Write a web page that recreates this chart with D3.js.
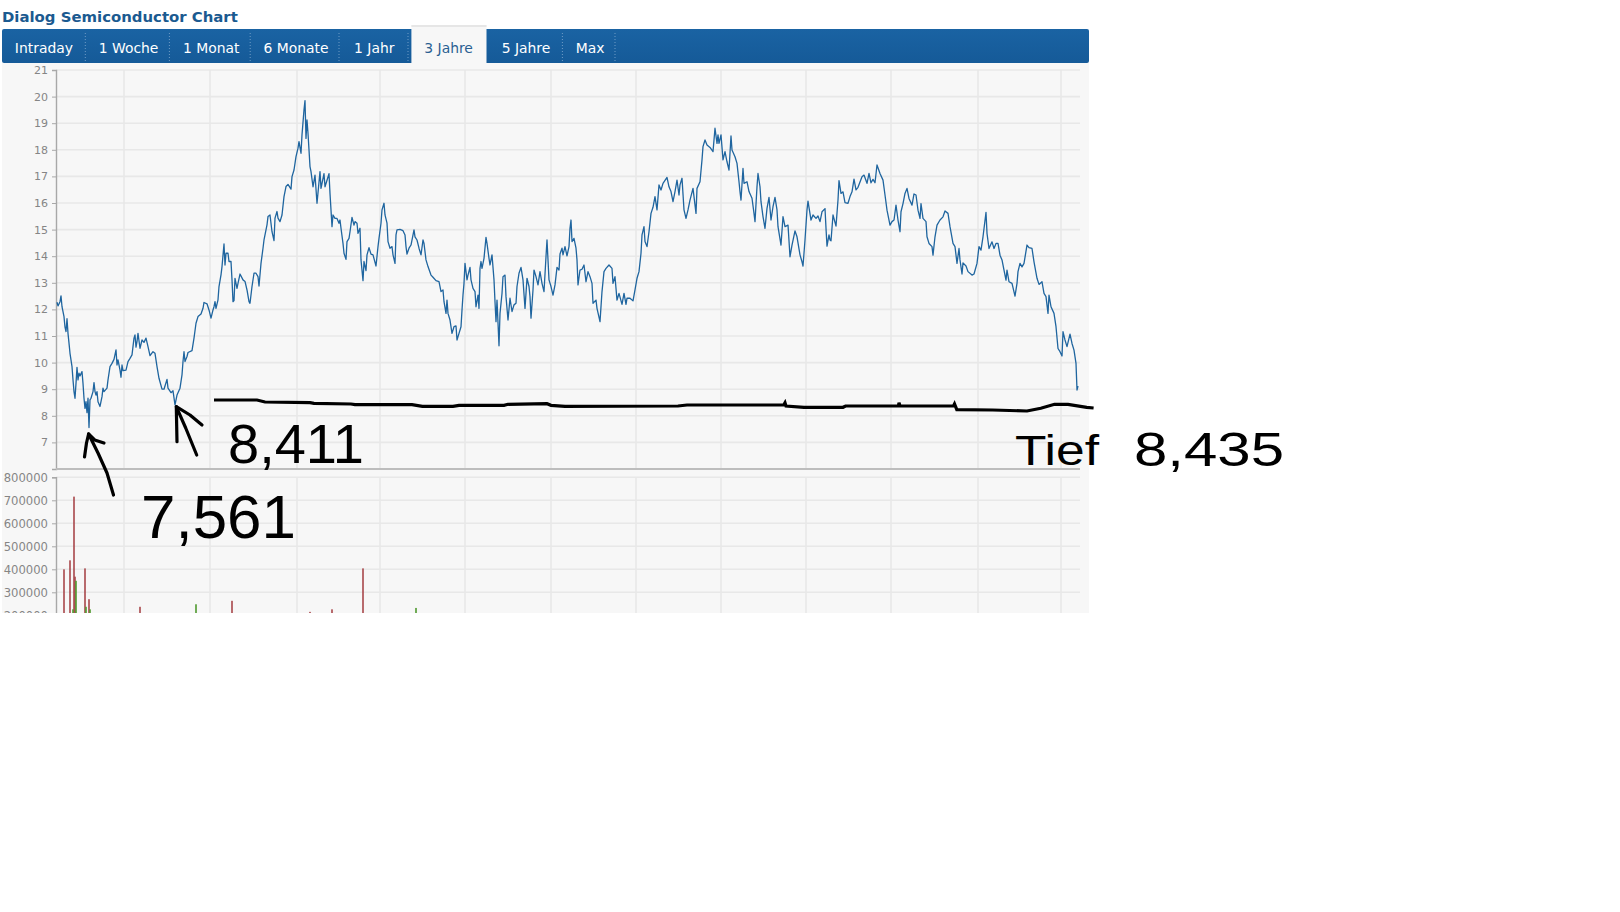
<!DOCTYPE html>
<html><head><meta charset="utf-8">
<script src="https://cdnjs.cloudflare.com/ajax/libs/d3/7.8.5/d3.min.js"></script>
<style>html,body{margin:0;padding:0;background:#fff}svg{display:block}</style>
</head><body><svg id="c" width="1620" height="912"></svg>
<script>
const chartTitle = "Dialog Semiconductor Chart";
const tabLabels = ["Intraday","1 Woche","1 Monat","6 Monate","1 Jahr","3 Jahre","5 Jahre","Max"];
const activeTab = "3 Jahre";
const priceTicks = [7,8,9,10,11,12,13,14,15,16,17,18,19,20,21];
const volumeTicks = [200000,300000,400000,500000,600000,700000,800000];
const gridDays = [67,153,240,323,408,494,579,664,749,834,921,1004];
const priceDays = [0,1,3,4,5,7,8,9,10,11,12,13,15,16,17,18,19,20,21,22,23,25,26,27,28,29,30,31,32,33,34,36,37,38,39,40,41,43,45,46,47,50,51,53,55,57,59,60,61,63,64,65,66,69,71,73,75,77,78,79,80,81,83,85,87,89,91,93,96,98,100,102,105,107,110,111,114,116,118,120,123,125,126,127,128,130,131,135,137,139,141,144,146,147,150,152,154,156,157,158,159,161,162,164,165,167,168,169,171,172,174,175,176,177,178,180,181,183,186,188,190,192,193,195,197,199,201,202,204,206,207,210,211,213,215,217,218,220,221,223,225,227,229,231,234,235,237,239,241,242,244,245,247,248,249,250,251,253,254,256,258,260,263,264,267,268,272,273,274,275,276,278,280,282,283,284,286,287,289,290,292,293,295,297,298,300,301,303,304,306,307,309,310,312,314,316,319,321,322,324,325,327,328,330,331,333,335,336,338,339,340,343,346,348,349,350,352,354,357,358,360,362,364,366,367,369,371,374,376,379,382,384,386,387,389,390,391,393,395,397,399,400,402,404,405,406,407,408,410,411,413,414,416,418,419,421,422,423,424,425,427,429,430,432,433,435,437,438,439,440,442,443,445,446,448,449,451,453,455,457,459,460,462,464,466,468,470,472,473,474,476,477,479,481,483,485,487,489,490,492,494,496,498,500,502,503,505,506,508,510,512,513,514,515,517,519,520,521,523,525,527,529,531,533,535,536,539,540,543,545,547,549,552,555,556,558,560,562,565,567,569,570,573,576,578,580,582,584,585,587,588,590,592,594,596,598,600,602,604,606,610,612,614,616,618,620,622,623,625,627,629,631,633,636,639,640,643,645,646,648,650,653,656,658,660,661,662,664,666,668,670,672,674,675,678,680,682,683,684,686,687,690,692,695,697,698,700,701,703,704,706,708,710,712,714,716,718,720,721,724,726,728,731,733,735,738,740,743,745,746,748,750,751,754,756,759,761,763,765,768,769,770,772,773,774,776,779,781,782,784,786,788,791,793,795,797,799,801,805,807,810,812,814,816,818,820,823,826,828,830,833,835,837,839,841,843,844,846,848,850,852,855,857,859,861,863,864,866,869,870,872,875,876,878,880,883,886,888,891,893,896,898,900,902,903,905,906,909,911,915,917,920,922,924,926,929,930,932,935,937,939,941,943,945,947,949,950,952,955,958,960,961,963,965,967,970,972,975,977,980,982,985,987,989,991,992,994,997,999,1001,1003,1005,1006,1008,1010,1013,1015,1017,1019,1020,1021];
const priceValues = [12.27,12.13,12.29,12.51,12.10,11.73,11.33,11.17,11.65,11.10,10.73,10.35,9.85,9.35,8.91,8.66,9.22,9.82,9.35,9.60,9.50,9.66,9.22,8.66,8.28,8.53,8.12,8.66,7.56,8.60,8.66,8.91,9.25,8.91,8.78,8.91,8.53,8.35,8.72,9.04,8.91,9.04,9.35,9.85,9.97,10.12,10.48,9.91,10.10,9.72,9.45,9.91,9.70,9.72,10.04,10.16,10.29,10.92,11.04,10.58,10.79,11.10,10.54,10.85,10.76,10.92,10.60,10.26,10.41,10.35,9.85,9.41,9.00,9.00,9.37,9.04,8.87,8.94,8.41,8.78,9.04,9.54,10.04,10.41,10.04,10.23,10.38,10.45,10.92,11.48,11.73,11.83,12.04,12.26,12.21,11.98,11.67,11.98,12.10,12.29,12.04,12.36,12.86,13.30,13.61,14.46,13.67,14.11,14.11,13.80,13.80,13.11,12.29,12.33,13.17,12.79,12.98,13.33,13.11,13.05,12.73,12.29,12.23,12.86,13.36,13.36,13.23,12.88,13.73,14.30,14.61,15.18,15.49,15.55,14.92,14.59,15.43,15.68,15.43,15.30,15.55,16.24,16.62,16.70,16.52,16.99,17.24,17.74,18.06,18.31,17.87,18.56,19.50,19.85,18.43,19.12,18.62,17.37,17.18,16.61,17.05,15.99,17.18,16.55,17.10,16.61,17.10,16.36,15.74,15.11,15.55,15.42,15.42,15.24,15.36,15.05,14.48,14.11,13.88,14.55,14.67,14.92,15.46,15.17,15.30,15.24,14.86,15.05,13.86,13.08,13.80,13.46,14.05,14.32,14.08,14.05,13.63,14.36,14.67,15.24,15.74,15.99,15.55,15.24,14.55,14.30,14.36,14.05,13.73,14.80,14.99,15.01,14.96,14.80,14.36,14.08,14.30,14.42,14.99,14.73,14.61,14.30,14.05,14.61,14.48,13.86,13.61,13.29,13.21,13.08,13.04,12.67,12.73,12.29,11.85,12.35,11.85,11.60,11.10,11.35,11.38,10.85,11.10,11.35,11.98,12.54,12.98,13.73,13.11,13.29,13.58,13.11,12.79,12.67,12.10,12.54,12.04,13.54,13.80,13.54,13.92,14.71,14.48,13.92,13.67,14.05,13.11,12.29,11.54,12.35,10.63,11.85,12.60,13.23,13.29,12.48,11.60,12.42,11.92,12.17,12.23,12.86,13.36,13.58,13.11,12.04,13.17,12.86,12.48,11.67,12.73,13.48,13.23,12.92,13.42,12.98,12.67,13.98,14.61,13.11,12.86,12.54,12.92,13.58,13.48,14.08,14.30,14.05,14.36,14.01,14.36,15.05,15.36,14.55,14.67,14.30,13.86,12.92,13.48,13.51,13.67,13.04,13.42,13.23,12.98,12.23,12.35,12.04,11.54,12.67,13.42,13.54,13.67,13.54,12.98,13.23,12.35,12.60,12.19,12.60,12.19,12.42,12.42,12.32,12.73,13.17,13.42,14.11,14.80,15.11,14.55,14.36,14.92,15.61,15.84,16.24,15.74,16.68,16.49,16.74,16.96,16.61,16.43,16.05,16.43,16.86,16.30,16.68,16.93,15.74,15.42,15.74,16.11,16.55,15.61,16.55,16.80,17.62,18.12,18.37,18.18,18.09,17.93,18.81,18.24,18.56,18.24,18.56,17.62,17.93,17.55,17.24,18.52,17.99,17.74,17.49,16.80,16.43,16.11,17.30,16.74,16.80,16.43,16.18,15.61,15.30,16.61,17.11,16.61,16.05,15.49,15.05,15.80,16.21,15.36,15.86,16.21,15.74,15.11,14.42,15.49,15.11,15.17,13.98,14.42,14.95,14.73,14.05,13.79,13.63,14.61,15.74,16.07,15.36,15.55,15.42,15.51,15.30,15.67,15.79,15.05,14.38,14.80,14.61,14.58,15.55,15.13,16.11,16.84,16.36,16.42,16.01,15.99,16.24,16.42,16.90,16.49,16.59,16.99,17.05,16.74,17.11,16.76,16.89,16.76,17.43,17.11,16.86,16.30,15.73,15.17,15.30,15.36,15.92,15.36,14.92,15.67,15.98,16.36,16.55,16.17,15.92,16.34,16.30,15.73,15.42,15.98,15.42,15.30,14.73,14.48,14.36,14.04,14.73,15.17,15.36,15.48,15.70,15.61,15.11,14.48,14.36,13.73,14.29,13.86,13.33,13.75,13.63,13.42,13.29,13.33,13.73,14.36,14.23,14.73,15.65,14.86,14.29,14.54,14.29,14.48,14.48,14.04,13.86,13.48,13.10,13.48,13.04,12.98,12.50,12.98,13.42,13.73,13.60,13.73,14.42,14.32,14.29,13.79,13.17,12.94,13.04,12.60,12.48,11.85,12.54,12.10,11.85,11.35,10.53,10.41,10.25,11.16,10.85,10.60,11.07,10.72,10.47,9.97,8.97,9.12];
const volumeDaysDown = [7,13,17,18,28,32,83,175,253,275,306];
const volumeValuesDown = [400000,439000,716000,368000,404000,270000,237000,263000,215000,226000,404000];
const volumeDaysUp = [16,19,29,33,139,359];
const volumeValuesUp = [226000,350000,237000,226000,248000,232000];
// Hand-drawn overlay, in screen pixels (it was scribbled on top of the screenshot)
const sketchBaseline = [[214,400],[257,400],[265,402],[310,402.7],[314,403.3],[351,404],[355,404.7],[412,404.7],[422.4,406.3],[453,406.3],[459,405.3],[504,405.3],[508,404.3],[547,403.7],[551,405.3],[565,406.3],[678,406],[687,405],[783.7,405],[785,402.7],[786,406],[804,407.3],[843,407.3],[845.6,406],[898.4,406],[899,402.7],[900,406],[953.5,406],[954.5,404],[956.8,409.7],[992.6,410],[1027,411],[1040.8,408.3],[1054.5,404.3],[1068,404.3],[1086.7,407.3],[1093.6,408]];
const sketchArrows = [
  [[113.5,495],[107,473],[98,453],[88.6,434]],
  [[84.5,457],[86.5,443],[88.6,434],[94.7,440],[104,443]],
  [[196.7,455],[185.7,428],[176.3,406.7]],
  [[177,441.7],[176.3,406.7],[190,415],[202,425]]
];
const sketchNotes = [
  {text:"7,561",x:141,y:538,size:62,len:155},
  {text:"8,411",x:228,y:463,size:56,len:136},
  {text:"Tief",x:1015,y:465,size:42,len:84},
  {text:"8,435",x:1134,y:466,size:48,len:150}
];

const svg = d3.select("#c");
const tabEdges = [2,85.3,169.4,250.2,339,411.4,486.5,562.4,615];
const x = d3.scaleLinear().domain([0,1023]).range([57,1080]);
const yP = d3.scaleLinear().domain([6,21]).range([469,70]);
const yV = d3.scaleLinear().domain([200000,800000]).range([615.3,477.3]);

const defs = svg.append("defs");
const g1 = defs.append("linearGradient").attr("id","hdr").attr("x1",0).attr("y1",0).attr("x2",0).attr("y2",1);
g1.append("stop").attr("offset","0").attr("stop-color","#1a63a3");
g1.append("stop").attr("offset","1").attr("stop-color","#155a98");
defs.append("clipPath").attr("id","panel").append("rect").attr("x",0).attr("y",0).attr("width",1620).attr("height",613);

svg.append("text").attr("x",2).attr("y",22).attr("fill","#1b5a90")
  .attr("font-family","'DejaVu Sans'").attr("font-weight","bold").attr("font-size",14.9).text(chartTitle);

const root = svg.append("g").attr("clip-path","url(#panel)");
root.append("rect").attr("x",2).attr("y",63).attr("width",1087).attr("height",550).attr("fill","#f7f7f7");
root.append("rect").attr("x",2).attr("y",29).attr("width",1087).attr("height",34).attr("rx",2).attr("fill","url(#hdr)");

// tabs
const tabs = root.selectAll("g.tab").data(tabLabels).join("g");
tabs.filter(d=>d===activeTab).append("rect")
  .attr("x",(d,i)=>tabEdges[tabLabels.indexOf(d)]).attr("y",25)
  .attr("width",d=>tabEdges[tabLabels.indexOf(d)+1]-tabEdges[tabLabels.indexOf(d)]).attr("height",38).attr("fill","#f7f7f7");
tabs.filter(d=>d===activeTab).append("rect")
  .attr("x",(d,i)=>tabEdges[tabLabels.indexOf(d)]).attr("y",25)
  .attr("width",d=>tabEdges[tabLabels.indexOf(d)+1]-tabEdges[tabLabels.indexOf(d)]).attr("height",2).attr("fill","#e6e6e6");
const tabCenters = [43.9,128.6,211.2,296,374.3,448.6,526,590];
tabs.append("text").attr("x",(d,i)=>tabCenters[i]).attr("y",53).attr("text-anchor","middle")
  .attr("font-family","'DejaVu Sans'").attr("font-size",13.9)
  .attr("fill",d=>d===activeTab?"#2a5f92":"#fff").text(d=>d);
root.selectAll("line.sep").data(tabEdges.slice(1).filter((d,i)=>i!==3&&i!==4&&i!==5).concat([339,408])).join("line")
  .attr("x1",d=>d).attr("x2",d=>d).attr("y1",33).attr("y2",63)
  .attr("stroke","#6f9cc6").attr("stroke-dasharray","1,2");

// grids
const gridColor = "#e8e8e8";
const hGrid = (vals, s) => root.append("g").selectAll("line").data(vals).join("line")
  .attr("x1",56).attr("x2",1080).attr("y1",d=>s(d)).attr("y2",d=>s(d))
  .attr("stroke",gridColor).attr("stroke-width",1.6);
hGrid(priceTicks,yP); hGrid(volumeTicks,yV);
const vGrid = (top,bot) => root.append("g").selectAll("line").data(gridDays).join("line")
  .attr("x1",d=>x(d)).attr("x2",d=>x(d)).attr("y1",top).attr("y2",bot)
  .attr("stroke",gridColor).attr("stroke-width",1.6);
vGrid(yP(21),yP(6)); vGrid(yV(800000),613);

// axes
function styleAxis(g,size){
  g.selectAll("text").attr("font-family","'DejaVu Sans'").attr("font-size",size).attr("fill","#858585");
  g.selectAll(".tick line").attr("stroke","#a8a8a8");
  g.select(".domain").attr("stroke","#a8a8a8").attr("stroke-width",1.4);
}
root.append("g").attr("transform","translate(56,0)")
  .call(d3.axisLeft(yP).tickValues(priceTicks).tickSize(4).tickPadding(4).tickFormat(d3.format("d")))
  .call(g=>styleAxis(g,11));
root.append("g").attr("transform","translate(56,0)")
  .call(d3.axisLeft(yV).tickValues(volumeTicks).tickSize(4).tickPadding(4).tickFormat(d3.format("d")))
  .call(g=>styleAxis(g,11.6));
root.append("line").attr("x1",56).attr("x2",1080).attr("y1",yP(6)).attr("y2",yP(6)).attr("stroke","#bdbdbd").attr("stroke-width",2);

// volume
const bars = (days,vals,col)=>root.append("g").selectAll("rect").data(days).join("rect")
  .attr("x",d=>x(d)-0.8).attr("width",1.6).attr("y",(d,i)=>yV(vals[i])).attr("height",(d,i)=>613-yV(vals[i])).attr("fill",col);
bars(volumeDaysDown,volumeValuesDown,"#a9474b");
bars(volumeDaysUp,volumeValuesUp,"#4f9a2e");

// price
const pts = priceDays.map((d,i)=>[d,priceValues[i]]);
root.append("path").attr("d",d3.line().x(d=>x(d[0])).y(d=>yP(d[1]))(pts))
  .attr("fill","none").attr("stroke","#1f659f").attr("stroke-width",1.3).attr("stroke-linejoin","round");

// hand-drawn overlay
const raw = d3.line();
svg.append("path").attr("d",raw(sketchBaseline)).attr("fill","none").attr("stroke","#000").attr("stroke-width",3.2);
svg.append("g").selectAll("path").data(sketchArrows).join("path").attr("d",d=>raw(d))
  .attr("fill","none").attr("stroke","#000").attr("stroke-width",3.2).attr("stroke-linecap","round").attr("stroke-linejoin","round");
svg.append("g").selectAll("text").data(sketchNotes).join("text")
  .attr("x",d=>d.x).attr("y",d=>d.y).attr("font-size",d=>d.size)
  .attr("font-family","'Liberation Sans'").attr("fill","#000")
  .attr("textLength",d=>d.len).attr("lengthAdjust","spacingAndGlyphs").text(d=>d.text);
</script></body></html>
